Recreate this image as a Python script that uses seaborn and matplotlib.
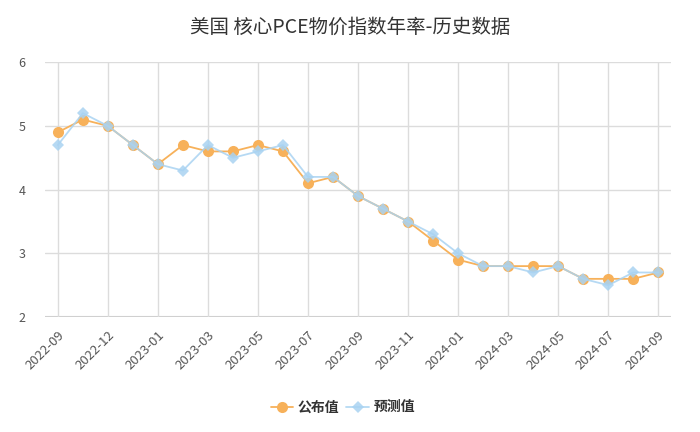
import numpy as np
import pandas as pd
import matplotlib
matplotlib.use("Agg")
import matplotlib.pyplot as plt
import seaborn as sns

# release months (x categories)
months = ["2022-09", "2022-10", "2022-12", "2022-12", "2023-01", "2023-02",
          "2023-03", "2023-04", "2023-05", "2023-06", "2023-07", "2023-08",
          "2023-09", "2023-10", "2023-11", "2023-12", "2024-01", "2024-02",
          "2024-03", "2024-04", "2024-05", "2024-06", "2024-07", "2024-08",
          "2024-09"]
actual = [4.9, 5.1, 5.0, 4.7, 4.4, 4.7, 4.6, 4.6, 4.7, 4.6, 4.1, 4.2, 3.9,
          3.7, 3.5, 3.2, 2.9, 2.8, 2.8, 2.8, 2.8, 2.6, 2.6, 2.6, 2.7]
forecast = [4.7, 5.2, 5.0, 4.7, 4.4, 4.3, 4.7, 4.5, 4.6, 4.7, 4.2, 4.2, 3.9,
            3.7, 3.5, 3.3, 3.0, 2.8, 2.8, 2.7, 2.8, 2.6, 2.5, 2.7, 2.7]
series_names = ["公布值", "预测值"]
colors = ["#f7b15a", "#a9d3f2"]
yticks = [2, 3, 4, 5, 6]

sns.set_theme(style="white")
plt.rcParams["font.family"] = ["Noto Sans CJK SC", "DejaVu Sans"]

idx = np.arange(len(months))
df = pd.DataFrame({
    "idx": np.concatenate([idx, idx]),
    "value": actual + forecast,
    "series": [series_names[0]] * len(idx) + [series_names[1]] * len(idx),
})

fig = plt.figure(figsize=(7, 4.32), dpi=100)
ax = fig.add_axes([0.064, 0.266, 0.895, 0.590])

grid_c = "#dcdcdc"
# gridlines
for y in yticks:
    ax.axhline(y, color=grid_c if y != 2 else "#d0d0d0", lw=1 if y != 2 else 1.5, zorder=0)
tick_pos = idx[::2]
for x in tick_pos:
    ax.axvline(x, color=grid_c, lw=1, zorder=0)

sns.lineplot(data=df[df.series == series_names[0]], x="idx", y="value",
             color=colors[0], marker="o", markersize=8, markeredgewidth=0,
             linewidth=1.3, ax=ax, label=series_names[0], zorder=3)
sns.lineplot(data=df[df.series == series_names[1]], x="idx", y="value",
             color=colors[1], marker="D", markersize=6.5, markeredgewidth=0,
             linewidth=1.3, alpha=0.85, ax=ax, label=series_names[1], zorder=4)

ax.set_xlim(-0.52, len(months) - 1 + 0.52)
ax.set_ylim(2, 6)
ax.set_yticks(yticks)
ax.set_yticklabels([str(v) for v in yticks], color="#555555", fontsize=9)
ax.set_xticks(tick_pos)
ax.set_xticklabels([months[i] for i in tick_pos], rotation=45, ha="right",
                   rotation_mode="anchor", color="#555555", fontsize=9.5)
ax.tick_params(axis="x", length=6, color=grid_c, width=1, pad=2)
ax.tick_params(axis="y", length=0, pad=14)
for s in ax.spines.values():
    s.set_visible(False)
ax.set_xlabel("")
ax.set_ylabel("")

fig.suptitle("美国 核心PCE物价指数年率-历史数据", x=0.5, y=0.962,
             fontsize=14, color="#333333")

handles, labels = ax.get_legend_handles_labels()
ax.get_legend().remove()
leg = fig.legend(handles, labels, loc="center", bbox_to_anchor=(0.49, 0.057), ncol=2,
                 frameon=False, handlelength=1.6, handletextpad=0.35, columnspacing=0.5,
                 prop={"weight": "bold", "size": 10})
for t in leg.get_texts():
    t.set_color("#333333")

fig.savefig("out.png", dpi=100, facecolor="white")
